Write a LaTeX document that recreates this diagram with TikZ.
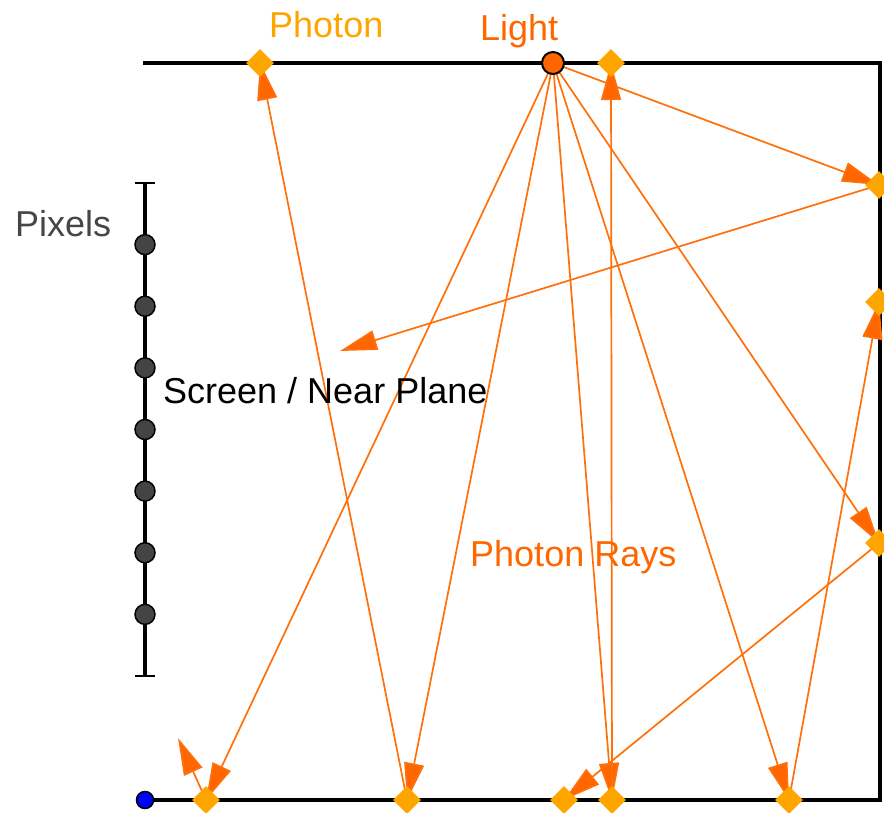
\documentclass[tikz,border=0pt]{standalone}
\usepackage{fontspec}
\setmainfont{Liberation Sans}
\usetikzlibrary{arrows.meta,shapes.geometric}
\definecolor{rayc}{RGB}{255,112,10}
\definecolor{photonc}{RGB}{255,165,0}
\definecolor{lightc}{RGB}{255,102,0}
\definecolor{pixc}{RGB}{68,68,68}
\definecolor{labelgray}{RGB}{70,70,70}
\begin{document}
\begin{tikzpicture}[x=1pt,y=-1pt,
  frame/.style={line width=3.8pt,black},
  ray/.style={rayc,line width=1.7pt,-{Triangle[length=37pt,width=20pt,fill=lightc]}},
  photon/.style={diamond,fill=photonc,minimum width=28pt,minimum height=28pt,inner sep=0pt},
  pixel/.style={circle,fill=pixc,draw=black,line width=1.5pt,minimum size=20pt,inner sep=0pt},
  lbl/.style={anchor=base west,inner sep=0pt,font=\fontsize{36pt}{40pt}\selectfont}]
\useasboundingbox (0,0) rectangle (884,813);

% points of the scene
\coordinate (L)  at (553,63);
\coordinate (T1) at (260,63);
\coordinate (T2) at (611,63);
\coordinate (R1) at (879,185);
\coordinate (R2) at (879,302);
\coordinate (R3) at (879,543);
\coordinate (B1) at (206,800);
\coordinate (B2) at (407,800);
\coordinate (B3) at (564,800);
\coordinate (B4) at (612,800);
\coordinate (B5) at (789,800);
\coordinate (E1) at (340,351);
\coordinate (E2) at (178,738);
\coordinate (O)  at (145,800);

% walls of the scene
\draw[frame] (143,63) -- (880,63) -- (880,800) -- (O);

% screen with pixels
\coordinate (S0) at (145,183);
\coordinate (S8) at (145,676);
\draw[frame,line width=3.5pt] (S0) -- (S8);
\draw[line width=2.5pt] (135,183) -- (155,183) (135,676) -- (155,676);
\foreach \k in {1,...,7}{
  \node[pixel] (px\k) at (145,{183+61.625*\k}) {};
}

% rays leaving the light
\draw[ray] (L) -- (R1);
\draw[ray] (L) -- (R3);
\draw[ray] (L) -- (B1);
\draw[ray] (L) -- (B2);
\draw[ray] (L) -- (B4);
\draw[ray] (L) -- (B5);
% bounced rays
\draw[ray] (R1) -- (E1);
\draw[ray] (R3) -- (B3);
\draw[ray] (B5) -- (R2);
\draw[ray] (B4) -- (T2);
\draw[ray] (B2) -- (T1);
\draw[ray] (B1) -- (E2);

% photon hits
\foreach \p in {T1,T2,R1,R2,R3,B1,B2,B3,B4,B5}{
  \node[photon] (d\p) at (\p) {};
}

% light source and origin
\node[circle,fill=lightc,draw=black,line width=2pt,minimum size=22pt,inner sep=0pt] (light) at (L) {};
\node[circle,fill=blue,draw=black,line width=1.5pt,minimum size=17pt,inner sep=0pt] (origin) at (O) {};

% labels
\node[lbl,text=photonc] (tphoton) at (269,38) {Photon};
\node[lbl,text=lightc] (tlight) at (480,41) {Light};
\node[lbl,text=labelgray] (tpixels) at (15,237) {Pixels};
\node[lbl,text=black] (tscreen) at (163,403) {Screen / Near Plane};
\node[lbl,text=lightc] (trays) at (470,566) {Photon Rays};
\end{tikzpicture}
\end{document}
